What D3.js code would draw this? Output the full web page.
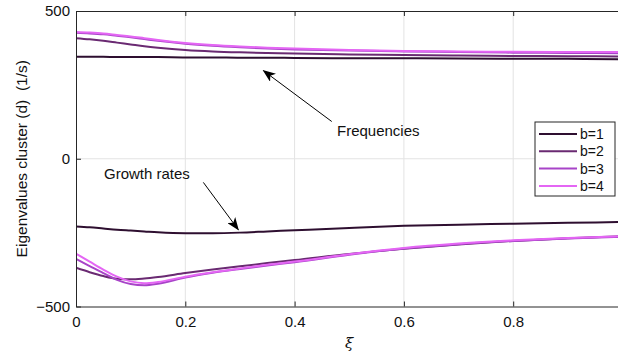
<!DOCTYPE html>
<html>
<head>
<meta charset="utf-8">
<script src="https://cdn.jsdelivr.net/npm/d3@7"></script>
<style>
  body { margin: 0; background: #fff; }
  svg { display: block; font-family: "Liberation Sans", Arial, sans-serif; }
</style>
</head>
<body>
<div id="chart"></div>
<script>
// damping ratio samples
const xi = [0, 0.025, 0.05, 0.075, 0.1, 0.125, 0.15, 0.2, 0.25, 0.3, 0.35, 0.4, 0.5, 0.6, 0.7, 0.8, 0.9, 1.0];

// upper branch: frequencies
const freqB1 = [345, 345, 345, 344, 344, 344, 344, 343, 343, 342, 342, 341, 340, 340, 339, 338, 338, 337];
const freqB2 = [408, 404, 399, 393, 387, 381, 376, 368, 363, 360, 358, 356, 353, 351, 349, 348, 347, 346];
const freqB3 = [426, 424, 421, 416, 411, 405, 399, 389, 382, 377, 373, 370, 366, 363, 361, 359, 358, 357];
const freqB4 = [429, 427, 424, 419, 414, 408, 402, 392, 385, 380, 376, 373, 368, 365, 363, 362, 361, 361];

// lower branch: growth rates
const growB1 = [-229, -232, -236, -240, -243, -246, -249, -252, -252, -250, -246, -242, -234, -227, -223, -220, -217, -214];
const growB2 = [-369, -384, -397, -406, -408, -405, -400, -387, -375, -364, -353, -343, -322, -305, -290, -278, -269, -262];
const growB3 = [-339, -363, -387, -410, -424, -428, -423, -402, -386, -373, -361, -350, -325, -304, -289, -278, -270, -264];
const growB4 = [-321, -348, -375, -399, -415, -421, -417, -399, -384, -371, -359, -348, -323, -302, -287, -276, -268, -262];

const seriesNames = ['b=1', 'b=2', 'b=3', 'b=4'];
const colors = ['#2e0f30', '#6a2a72', '#a844c8', '#e466f4'];
const xTicks = [0, 0.2, 0.4, 0.6, 0.8];
const yTicks = [-500, 0, 500];

const W = 618, H = 354;
const svg = d3.select('#chart').append('svg').attr('width', W).attr('height', H);

const x = d3.scaleLinear().domain([0, 1]).range([76, 622.5]);
const y = d3.scaleLinear().domain([-500, 500]).range([306.5, 11]);
const pLeft = x(0), pRight = x(1), pTop = y(500), pBottom = y(-500);

const defs = svg.append('defs');
defs.append('clipPath').attr('id', 'clip')
  .append('rect').attr('x', pLeft).attr('y', pTop).attr('width', pRight - pLeft).attr('height', pBottom - pTop);

// grid
const grid = svg.append('g').attr('stroke', '#e3e3e3').attr('stroke-width', 1);
xTicks.filter(d => d > 0).forEach(d => {
  grid.append('line').attr('x1', x(d)).attr('x2', x(d)).attr('y1', pTop).attr('y2', pBottom);
});
grid.append('line').attr('x1', pLeft).attr('x2', pRight).attr('y1', y(0)).attr('y2', y(0));

// curves
const line = d3.line().x(d => x(d[0])).y(d => y(d[1])).curve(d3.curveMonotoneX);
const freqs = [freqB1, freqB2, freqB3, freqB4];
const grows = [growB1, growB2, growB3, growB4];
const plot = svg.append('g').attr('clip-path', 'url(#clip)');
for (let i = 0; i < 4; i++) {
  [freqs[i], grows[i]].forEach(vals => {
    plot.append('path')
      .attr('d', line(xi.map((v, k) => [v, vals[k]])))
      .attr('fill', 'none')
      .attr('stroke', colors[i])
      .attr('stroke-width', 2);
  });
}

// axes
const axisColor = '#262626';
const xAxis = svg.append('g').attr('transform', `translate(0,${pBottom})`)
  .call(d3.axisBottom(x).tickValues(xTicks).tickSizeInner(-5).tickSizeOuter(0).tickPadding(10)
    .tickFormat(d => d === 0 ? '0' : d3.format('.1f')(d)));
const xTop = svg.append('g').attr('transform', `translate(0,${pTop})`)
  .call(d3.axisTop(x).tickValues(xTicks).tickSizeInner(-5).tickSizeOuter(0).tickFormat(''));
const yAxis = svg.append('g').attr('transform', `translate(${pLeft},0)`)
  .call(d3.axisLeft(y).tickValues(yTicks).tickSizeInner(-5).tickSizeOuter(0).tickPadding(6));
[xAxis, xTop, yAxis].forEach(g => {
  g.select('.domain').attr('stroke', axisColor);
  g.selectAll('.tick line').attr('stroke', axisColor);
  g.selectAll('.tick text').attr('fill', '#111').style('font-size', '15px')
    .style('font-family', '"Liberation Sans", Arial, sans-serif');
});

// axis labels
svg.append('text')
  .attr('x', x(0.5)).attr('y', 348)
  .attr('text-anchor', 'middle')
  .style('font-size', '15px').style('font-style', 'italic')
  .style('font-family', '"DejaVu Serif", serif')
  .attr('fill', '#111')
  .text('ξ');
svg.append('text')
  .attr('transform', `translate(27,${y(0)}) rotate(-90)`)
  .attr('text-anchor', 'middle')
  .style('font-size', '15.5px').style('white-space', 'pre').attr('fill', '#111')
  .text('Eigenvalues cluster (d)  (1/s)');

// annotations with arrows
const annotations = [
  { label: 'Frequencies', tx: 337, ty: 136, from: [0.468, 126], to: [0.343, 298] },
  { label: 'Growth rates', tx: 104, ty: 179, from: [0.233, -80], to: [0.297, -240] }
];
defs.append('marker')
  .attr('id', 'arrow').attr('viewBox', '0 0 13 10').attr('refX', 12).attr('refY', 5)
  .attr('markerWidth', 13).attr('markerHeight', 10).attr('markerUnits', 'userSpaceOnUse')
  .attr('orient', 'auto')
  .append('path').attr('d', 'M0,0 L13,5 L0,10 L3.5,5 Z').attr('fill', '#000');
annotations.forEach(a => {
  svg.append('line')
    .attr('x1', x(a.from[0])).attr('y1', y(a.from[1]))
    .attr('x2', x(a.to[0])).attr('y2', y(a.to[1]))
    .attr('stroke', '#000').attr('stroke-width', 1)
    .attr('marker-end', 'url(#arrow)');
  svg.append('text').attr('x', a.tx).attr('y', a.ty)
    .style('font-size', '15px').attr('fill', '#111').text(a.label);
});

// legend
const lg = svg.append('g').attr('transform', 'translate(535,122)');
lg.append('rect').attr('width', 80).attr('height', 74)
  .attr('fill', '#fff').attr('stroke', axisColor).attr('stroke-width', 1);
seriesNames.forEach((name, i) => {
  const ry = 12 + i * 17.3;
  lg.append('line').attr('x1', 4).attr('x2', 42).attr('y1', ry).attr('y2', ry)
    .attr('stroke', colors[i]).attr('stroke-width', 2);
  lg.append('text').attr('x', 45).attr('y', ry + 5)
    .style('font-size', '14px').attr('fill', '#111').text(name);
});
</script>
</body>
</html>
